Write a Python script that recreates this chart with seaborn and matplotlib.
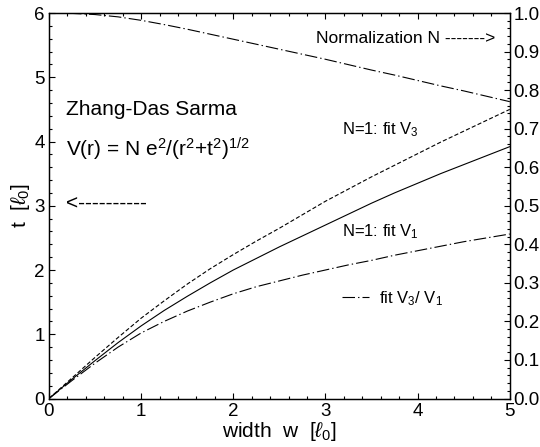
"""
Zhang-Das Sarma fit: layer thickness t and normalization N vs width w.
"""

import matplotlib
matplotlib.use("Agg")
import matplotlib.pyplot as plt
from matplotlib.ticker import MultipleLocator, FormatStrFormatter
import pandas as pd
import seaborn as sns


# Values
width = [0.0, 0.25, 0.5, 0.75, 1.0, 1.25, 1.5, 1.75, 2.0, 2.25, 2.5,
         2.75, 3.0, 3.25, 3.5, 3.75, 4.0, 4.25, 4.5, 4.75, 5.0]
t_fit_v3 = [0.0, 0.32, 0.64, 0.95, 1.25, 1.52, 1.78, 2.02, 2.24, 2.45, 2.65,
            2.86, 3.07, 3.26, 3.45, 3.63, 3.81, 3.99, 4.16, 4.33, 4.50]
t_fit_v1 = [0.0, 0.30, 0.59, 0.87, 1.13, 1.37, 1.59, 1.80, 2.00, 2.18, 2.36,
            2.53, 2.70, 2.87, 3.04, 3.20, 3.35, 3.50, 3.64, 3.78, 3.92]
t_fit_ratio = [0.0, 0.28, 0.55, 0.80, 1.02, 1.20, 1.36, 1.50, 1.63, 1.74, 1.83,
               1.92, 2.00, 2.08, 2.15, 2.23, 2.30, 2.37, 2.44, 2.50, 2.56]
norm_n = [1.000, 0.999, 0.996, 0.990, 0.981, 0.970, 0.958, 0.945, 0.932, 0.919, 0.906,
          0.893, 0.880, 0.866, 0.852, 0.839, 0.825, 0.811, 0.798, 0.784, 0.770]

df = pd.DataFrame({
    "w": width,
    "v3": t_fit_v3,
    "v1": t_fit_v1,
    "ratio": t_fit_ratio,
    "N": norm_n,
})

sns.set_style("ticks")
plt.rcParams["font.family"] = ["Liberation Sans", "DejaVu Sans"]
plt.rcParams["mathtext.fontset"] = "custom"
plt.rcParams["mathtext.rm"] = "Liberation Sans"
plt.rcParams["mathtext.it"] = "Liberation Sans:italic"
plt.rcParams["lines.scale_dashes"] = False
plt.rcParams["text.color"] = "k"
plt.rcParams["axes.labelcolor"] = "k"
plt.rcParams["xtick.color"] = "k"
plt.rcParams["ytick.color"] = "k"

dash_dot = (9, 2.2, 1, 2.2)

fig = plt.figure(figsize=(5.4, 4.47), dpi=100)
ax = fig.add_axes([0.0907, 0.1085, 0.8533, 0.8624])
ax2 = ax.twinx()

# Curves on the left axis
sns.lineplot(data=df, x="w", y="v3", ax=ax, color="k", lw=0.8)
ax.lines[-1].set_dashes((3, 1.6))
sns.lineplot(data=df, x="w", y="v1", ax=ax, color="k", lw=0.8)
sns.lineplot(data=df, x="w", y="ratio", ax=ax, color="k", lw=0.8)
ratio_line = ax.lines[-1]
ratio_line.set_dashes(dash_dot)

# Normalization on the right axis
sns.lineplot(data=df, x="w", y="N", ax=ax2, color="k", lw=0.8)
ax2.lines[-1].set_dashes(dash_dot)

ax.set_xlim(0, 5)
ax.set_ylim(0, 6)
ax2.set_ylim(0, 1)

ax.xaxis.set_major_locator(MultipleLocator(1))
ax.xaxis.set_minor_locator(MultipleLocator(0.2))
ax.yaxis.set_major_locator(MultipleLocator(1))
ax.yaxis.set_minor_locator(MultipleLocator(0.2))
ax2.yaxis.set_major_locator(MultipleLocator(0.1))
ax2.yaxis.set_minor_locator(MultipleLocator(0.02))
ax2.yaxis.set_major_formatter(FormatStrFormatter("%.1f"))

ax.tick_params(which="both", direction="in", top=True, right=False,
               labelsize=13.5, width=0.8, pad=3)
ax.tick_params(which="major", length=4)
ax.tick_params(which="minor", length=2)
ax2.tick_params(which="both", direction="in", labelsize=13.5, width=0.8, pad=2.5)
ax2.tick_params(which="major", length=4)
ax2.tick_params(which="minor", length=2)

for a in (ax, ax2):
    for s in a.spines.values():
        s.set_visible(True)
        s.set_linewidth(0.9)
        s.set_color("k")

ax.set_xlabel(r"width  w  [$\ell_0$]", fontsize=15, labelpad=0)
ax.set_ylabel(r"t  [$\ell_0$]", fontsize=15, labelpad=2)
ax2.set_ylabel("")

# Annotations
ax.text(0.19, 4.42, "Zhang-Das Sarma", fontsize=15, va="baseline")
ax.text(0.19, 3.77, r"V(r) = N e$^2$/(r$^2$+t$^2$)$^{1/2}$", fontsize=15, va="baseline")
ax.text(0.19, 3.03, "<----------", fontsize=15, va="center")
ax.text(2.90, 5.61, "Normalization N ------->", fontsize=12.5, va="center")
ax.text(3.18, 4.11, r"N=1: fit V$_3$", fontsize=12, va="baseline")
ax.text(3.18, 2.52, r"N=1: fit V$_1$", fontsize=12, va="baseline")

leg = ax.legend([ratio_line], [r"fit V$_3$/ V$_1$"], loc="center left",
                bbox_to_anchor=(3.18, 1.56), bbox_transform=ax.transData,
                frameon=False, fontsize=12, handlelength=1.6,
                handletextpad=0.6, borderpad=0, borderaxespad=0)

fig.savefig("out.png", dpi=100)
